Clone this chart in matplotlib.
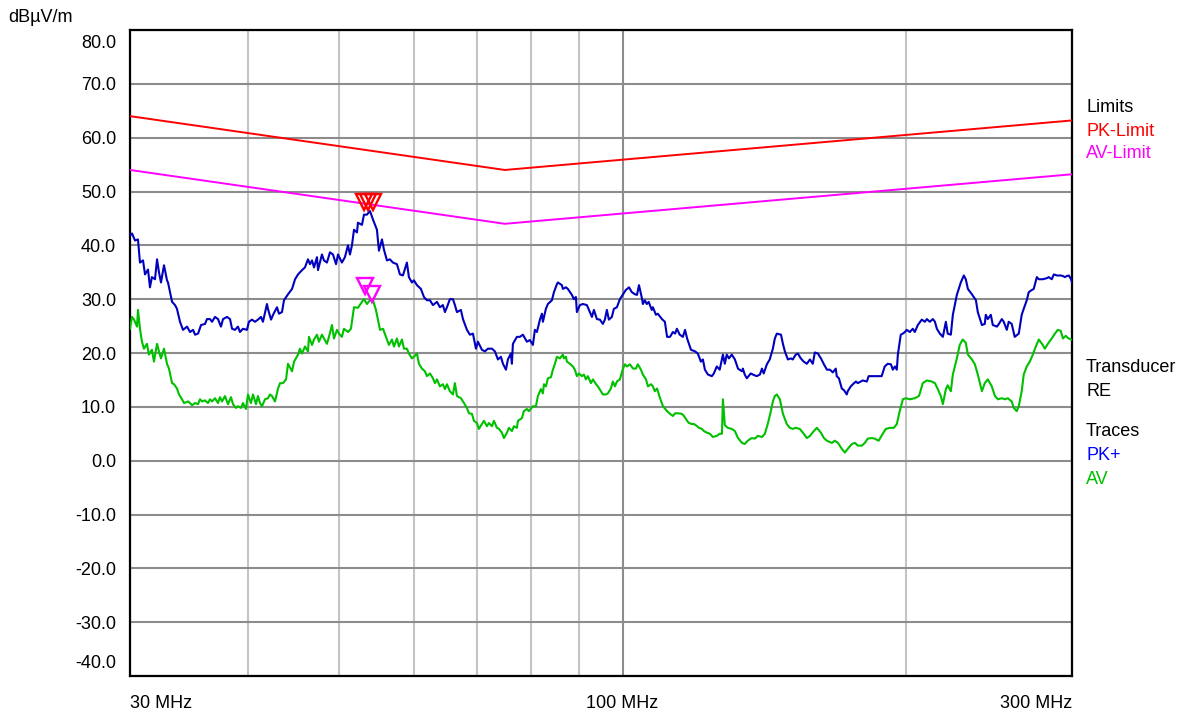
import matplotlib
matplotlib.use("Agg")
import matplotlib.pyplot as plt
from matplotlib.ticker import NullFormatter

plt.rcParams['font.family'] = ['Liberation Sans', 'DejaVu Sans']
plt.rcParams['font.size'] = 13

# ---- data (MHz, dBuV/m) ----
pk_freq = [30.0, 30.15, 30.37, 30.59, 30.74, 30.97, 31.12, 31.35, 31.5, 31.65, 31.89, 32.05, 32.2, 32.36,
           32.6, 32.84, 32.92, 33.25, 33.49, 33.65, 33.9, 34.15, 34.49, 34.74, 35.0, 35.17, 35.43, 35.69,
           36.04, 36.21, 36.48, 36.66, 36.93, 37.2, 37.47, 37.66, 38.03, 38.31, 38.5, 38.78, 39.06, 39.25,
           39.54, 39.93, 40.12, 40.42, 40.72, 41.02, 41.32, 41.52, 41.93, 42.03, 42.35, 42.56, 42.97, 43.18,
           43.5, 43.71, 44.14, 44.58, 44.91, 45.24, 45.68, 46.01, 46.35, 46.58, 46.81, 47.04, 47.38, 47.5,
           47.96, 48.2, 48.55, 48.91, 49.27, 49.64, 49.88, 50.36, 50.73, 51.11, 51.36, 51.61, 51.87, 52.25,
           52.37, 52.89, 53.15, 53.54, 53.93, 54.33, 54.86, 55.13, 55.54, 55.81, 56.22, 56.63, 57.05, 57.61,
           58.03, 58.46, 59.03, 59.32, 59.76, 60.05, 60.5, 61.09, 61.54, 61.99, 62.45, 62.91, 63.53, 63.99,
           64.46, 64.78, 65.1, 65.57, 66.06, 66.38, 66.71, 67.36, 67.7, 68.36, 68.86, 69.37, 69.88, 70.22,
           70.91, 71.43, 71.96, 72.67, 73.2, 73.74, 74.28, 74.65, 75.2, 75.56, 76.12, 76.3, 76.49, 77.24,
           77.81, 78.38, 79.15, 79.73, 80.32, 80.71, 81.11, 81.71, 82.11, 82.31, 82.91, 83.32, 84.14, 84.56,
           85.18, 85.39, 86.22, 86.43, 87.07, 87.49, 88.35, 88.79, 89.22, 89.44, 90.1, 90.77, 91.65, 92.33,
           92.79, 93.24, 93.92, 94.61, 95.31, 95.77, 96.24, 96.71, 97.42, 97.9, 98.63, 99.35, 100.1, 100.8,
           101.6, 102.3, 103.1, 103.6, 104.1, 104.9, 105.1, 105.6, 106.1, 106.6, 107.4, 107.7, 108.5, 109.0,
           110.1, 110.9, 111.5, 112.3, 113.1, 113.7, 114.2, 115.0, 115.9, 116.5, 117.1, 118.2, 119.4, 120.2,
           121.1, 121.7, 122.3, 123.2, 124.4, 125.0, 125.9, 126.8, 127.8, 128.4, 129.0, 129.7, 130.6, 131.6,
           132.6, 133.9, 134.2, 134.8, 135.5, 136.8, 137.5, 138.8, 139.9, 140.6, 141.2, 142.3, 143.3, 144.4,
           145.1, 145.8, 147.3, 148.0, 148.7, 149.8, 150.9, 151.6, 152.7, 153.5, 154.6, 155.7, 156.9, 158.1,
           159.2, 160.0, 161.2, 162.4, 163.6, 164.8, 166.0, 167.2, 168.4, 168.8, 169.7, 170.9, 171.8, 173.0,
           173.4, 174.7, 175.6, 176.9, 177.7, 179.0, 179.9, 181.7, 182.5, 186.1, 188.4, 189.8, 191.2, 192.7,
           193.6, 194.6, 195.5, 196.0, 197.4, 198.4, 199.4, 200.3, 201.8, 203.3, 204.3, 205.8, 207.8, 209.4,
           210.4, 211.9, 213.5, 214.6, 215.6, 217.2, 218.8, 220.4, 221.4, 223.1, 224.2, 226.4, 228.6, 230.3,
           231.4, 232.6, 234.9, 237.2, 238.3, 240.7, 242.4, 243.0, 244.2, 246.0, 247.2, 249.7, 250.9, 252.7,
           253.9, 255.8, 257.0, 258.9, 259.6, 260.8, 263.4, 265.3, 266.6, 268.6, 269.9, 271.9, 273.2, 275.3,
           276.6, 279.3, 282.1, 283.4, 285.5, 287.0, 289.1, 291.9, 293.4, 294.8, 296.3, 297.7, 299.3, 300.0]
pk_level = [41.8, 42.2, 40.9, 41.1, 36.8, 37.2, 34.6, 35.5, 32.2, 34.1, 33.7, 37.4, 35.0, 33.1,
            36.3, 33.5, 33.1, 29.5, 28.9, 28.2, 25.8, 24.3, 24.9, 23.9, 24.3, 23.4, 23.6, 25.2,
            25.4, 26.3, 26.3, 25.8, 26.7, 26.3, 24.9, 26.3, 26.7, 26.3, 24.5, 24.3, 24.9, 23.9,
            24.5, 24.3, 25.8, 26.2, 25.8, 26.2, 26.7, 25.8, 29.1, 28.2, 26.2, 27.1, 28.5, 27.3,
            27.6, 29.8, 30.9, 31.9, 33.7, 34.6, 35.4, 35.9, 37.4, 36.5, 37.2, 35.9, 37.8, 35.4,
            38.3, 37.2, 36.8, 38.7, 38.3, 36.5, 38.3, 36.8, 37.8, 40.0, 38.3, 40.0, 42.9, 42.4,
            44.2, 43.8, 45.7, 45.7, 46.4, 44.8, 42.9, 39.0, 41.1, 39.2, 37.2, 37.4, 36.8, 36.5,
            34.6, 34.4, 36.8, 34.1, 33.1, 33.5, 32.6, 31.9, 30.4, 29.8, 29.8, 28.9, 29.5, 28.5,
            28.9, 27.6, 28.5, 30.0, 30.0, 28.9, 27.6, 28.0, 26.3, 24.3, 23.4, 23.6, 20.8, 22.1,
            20.6, 20.3, 20.8, 20.8, 20.3, 18.8, 19.3, 18.0, 16.9, 18.8, 19.9, 18.0, 21.7, 23.0,
            23.0, 23.4, 22.1, 22.4, 21.5, 24.3, 23.9, 26.2, 27.3, 25.8, 28.2, 29.1, 29.8, 31.3,
            32.8, 33.1, 32.6, 31.9, 32.2, 31.9, 30.8, 30.0, 30.4, 27.6, 28.9, 29.1, 28.9, 27.6,
            26.7, 28.0, 26.3, 26.2, 25.4, 26.2, 28.0, 26.2, 26.7, 28.2, 28.5, 30.0, 30.9, 31.7,
            32.2, 31.3, 30.9, 30.8, 32.6, 30.0, 29.1, 29.8, 29.1, 29.5, 28.0, 28.5, 27.1, 27.3,
            26.3, 25.8, 23.0, 23.0, 23.9, 23.6, 24.5, 23.4, 23.0, 24.3, 22.7, 20.6, 20.3, 19.9,
            18.4, 18.8, 16.9, 16.0, 15.7, 16.2, 17.5, 16.9, 19.7, 18.0, 19.7, 19.0, 19.7, 18.8,
            17.1, 16.6, 17.1, 16.0, 15.3, 16.2, 16.0, 15.7, 16.0, 17.1, 16.2, 17.9, 18.8, 20.8,
            22.7, 23.6, 23.4, 21.7, 20.3, 18.8, 19.0, 18.8, 19.7, 19.9, 19.0, 18.4, 18.0, 18.8,
            18.0, 20.1, 19.9, 19.0, 17.9, 16.9, 16.9, 16.4, 17.1, 15.7, 15.3, 13.4, 13.1, 12.3,
            12.9, 13.8, 14.2, 14.7, 14.4, 14.7, 14.9, 14.7, 15.7, 15.7, 15.7, 17.5, 18.0, 17.9,
            16.9, 17.5, 16.9, 19.7, 23.4, 23.6, 23.9, 24.3, 23.9, 24.5, 23.9, 25.2, 26.2, 25.8,
            26.3, 25.8, 26.3, 25.8, 24.5, 23.6, 23.0, 25.8, 23.6, 23.4, 27.1, 30.8, 33.1, 34.4,
            33.7, 31.9, 30.9, 29.8, 27.6, 25.2, 25.4, 27.1, 26.3, 27.1, 25.2, 24.9, 25.4, 26.3,
            25.8, 24.3, 25.8, 25.4, 24.5, 23.0, 23.6, 27.1, 28.2, 29.8, 31.3, 31.7, 31.9, 34.1,
            33.7, 33.7, 33.9, 34.1, 33.7, 34.6, 34.4, 34.4, 34.3, 34.1, 34.3, 34.4, 33.7, 33.1]

av_freq = [30.0, 30.15, 30.3, 30.52, 30.59, 30.74, 30.89, 31.04, 31.27, 31.42, 31.65, 31.81, 32.05, 32.2,
           32.36, 32.6, 32.84, 33.0, 33.25, 33.41, 33.65, 33.82, 34.07, 34.24, 34.57, 34.74, 34.91, 35.17,
           35.43, 35.6, 35.78, 36.04, 36.3, 36.48, 36.66, 36.93, 37.2, 37.38, 37.57, 37.84, 38.12, 38.4,
           38.59, 38.87, 39.06, 39.35, 39.54, 39.83, 40.03, 40.32, 40.52, 40.82, 41.02, 41.22, 41.42, 41.73,
           42.03, 42.24, 42.45, 42.76, 43.08, 43.29, 43.61, 43.93, 44.14, 44.58, 44.8, 45.24, 45.45, 45.68,
           46.01, 46.35, 46.46, 46.81, 47.04, 47.38, 47.61, 47.96, 48.2, 48.55, 48.79, 49.15, 49.39, 49.76,
           50.0, 50.36, 50.61, 51.11, 51.48, 51.87, 52.37, 52.89, 53.15, 53.54, 53.93, 54.33, 54.73, 55.27,
           55.68, 56.09, 56.49, 56.91, 57.19, 57.61, 57.89, 58.32, 58.61, 59.03, 59.32, 59.76, 60.05, 60.5,
           60.79, 61.24, 61.69, 61.99, 62.45, 62.91, 63.22, 63.53, 63.99, 64.46, 64.78, 65.1, 65.57, 66.06,
           66.38, 66.71, 67.36, 67.87, 68.36, 68.69, 69.2, 69.54, 70.05, 70.39, 70.91, 71.26, 71.78, 72.13,
           72.67, 73.02, 73.56, 73.92, 74.46, 74.83, 75.38, 75.75, 76.3, 76.68, 77.24, 77.43, 78.19, 78.57,
           79.15, 79.54, 80.32, 80.91, 81.31, 81.91, 82.31, 82.52, 82.92, 83.32, 83.94, 84.35, 84.76, 85.18,
           85.8, 86.43, 86.64, 87.07, 87.28, 87.92, 88.57, 89.0, 89.44, 89.88, 90.54, 90.99, 91.43, 91.88,
           92.56, 93.02, 93.72, 94.15, 94.84, 95.31, 96.0, 96.48, 97.19, 97.66, 98.15, 98.63, 99.35, 100.1,
           100.6, 101.1, 101.8, 102.6, 103.3, 103.8, 104.6, 105.1, 105.9, 106.4, 107.2, 107.7, 108.2, 108.8,
           109.6, 110.4, 111.5, 112.3, 113.1, 113.7, 114.5, 115.6, 116.2, 117.1, 117.6, 118.5, 119.1, 120.0,
           120.5, 121.4, 122.0, 122.9, 123.8, 124.7, 125.9, 126.8, 127.5, 127.8, 128.4, 129.3, 130.6, 131.6,
           132.6, 133.9, 134.8, 135.8, 137.1, 138.2, 139.2, 140.6, 141.6, 142.6, 143.7, 144.4, 145.1, 145.8,
           146.9, 148.0, 149.4, 150.5, 151.6, 152.7, 154.2, 155.4, 156.9, 158.1, 159.6, 160.8, 162.4, 163.6,
           164.8, 166.8, 168.0, 169.3, 170.9, 172.2, 173.4, 175.2, 176.5, 177.7, 179.5, 180.8, 182.1, 183.9,
           185.2, 187.0, 188.9, 190.3, 192.2, 194.1, 195.5, 196.9, 198.4, 199.8, 201.8, 204.3, 206.3, 206.8,
           208.3, 210.4, 212.9, 214.6, 216.1, 217.7, 218.8, 220.4, 221.4, 223.1, 224.2, 226.4, 228.0, 229.7,
           231.4, 232.6, 234.9, 236.6, 238.3, 240.7, 242.4, 244.2, 246.6, 248.5, 250.3, 252.7, 254.6, 256.4,
           258.9, 260.2, 262.1, 263.4, 265.3, 266.6, 268.6, 270.6, 272.6, 274.6, 276.6, 279.3, 280.7, 282.8,
           285.5, 287.7, 289.8, 291.9, 293.4, 295.5, 297.0, 299.3]
av_level = [24.5, 26.7, 26.2, 24.9, 28.0, 24.5, 22.1, 20.8, 21.7, 19.7, 20.6, 18.4, 21.7, 20.3,
            19.0, 20.8, 18.0, 17.1, 14.4, 14.2, 13.4, 12.3, 11.4, 10.7, 11.0, 10.7, 10.3, 10.7,
            10.5, 11.4, 11.0, 11.2, 10.7, 11.4, 11.0, 11.6, 10.7, 11.8, 11.0, 12.0, 10.5, 11.8,
            10.5, 9.8, 10.1, 9.8, 10.7, 9.6, 12.3, 10.7, 12.3, 10.5, 12.0, 10.7, 10.1, 11.4,
            11.6, 12.3, 12.0, 11.0, 13.4, 14.4, 14.4, 15.1, 18.0, 16.6, 18.4, 19.7, 20.8, 19.9,
            21.2, 20.3, 23.0, 21.5, 22.5, 23.4, 22.1, 23.4, 22.7, 21.7, 23.0, 25.2, 22.7, 24.3,
            23.6, 23.0, 24.5, 23.9, 24.5, 28.5, 28.4, 29.5, 30.0, 29.1, 29.8, 29.8, 28.0, 24.3,
            24.5, 23.0, 21.5, 22.5, 21.2, 22.7, 21.2, 22.5, 20.8, 20.8, 19.9, 19.0, 19.3, 19.9,
            18.0, 17.1, 16.6, 15.7, 16.2, 15.3, 14.4, 15.1, 13.8, 14.2, 13.3, 14.2, 12.9, 12.3,
            14.4, 12.0, 11.6, 10.7, 9.8, 8.8, 8.7, 7.4, 7.0, 5.9, 6.8, 7.4, 6.4, 7.0,
            6.4, 7.4, 6.1, 5.9, 5.2, 4.2, 5.2, 6.1, 5.5, 6.4, 6.1, 7.4, 7.9, 9.2,
            9.6, 9.2, 10.1, 10.1, 12.0, 13.3, 12.5, 14.2, 13.8, 15.3, 15.5, 16.9, 18.0, 19.3,
            19.0, 19.7, 19.0, 19.3, 18.4, 18.0, 17.5, 16.9, 15.7, 16.2, 15.7, 16.0, 15.1, 15.7,
            14.4, 15.1, 14.2, 13.8, 12.9, 12.3, 12.3, 12.5, 13.4, 14.7, 13.8, 14.7, 15.1, 17.1,
            17.9, 17.5, 17.9, 17.1, 17.1, 17.9, 16.9, 16.0, 15.1, 13.8, 14.2, 13.8, 12.9, 13.4,
            11.6, 10.1, 9.2, 8.7, 8.3, 8.8, 8.8, 8.7, 8.3, 7.4, 7.0, 6.8, 6.8, 6.4,
            6.1, 5.9, 5.5, 5.2, 5.0, 4.4, 4.6, 5.0, 5.0, 11.4, 6.6, 6.1, 5.9, 5.5,
            4.2, 3.3, 3.1, 3.7, 4.2, 4.1, 4.6, 4.4, 5.0, 6.8, 9.2, 11.0, 12.0, 12.3,
            11.4, 8.7, 6.8, 6.1, 5.9, 6.1, 5.9, 5.2, 4.2, 4.6, 5.5, 6.1, 5.2, 4.2,
            3.7, 3.3, 3.7, 3.3, 2.2, 1.5, 2.2, 3.1, 3.3, 2.8, 2.8, 3.3, 4.1, 4.2,
            4.1, 3.7, 5.0, 5.9, 6.1, 6.1, 6.8, 9.2, 11.4, 11.6, 11.4, 11.6, 12.0, 12.5,
            14.4, 14.9, 14.7, 14.4, 13.3, 12.0, 10.5, 13.3, 14.0, 12.9, 16.0, 19.0, 21.5, 22.5,
            21.9, 19.7, 18.8, 17.9, 16.0, 12.9, 14.4, 15.1, 13.8, 12.0, 11.4, 11.6, 11.4, 11.6,
            11.0, 9.8, 9.2, 10.1, 12.9, 16.0, 17.5, 18.4, 19.7, 21.2, 22.5, 21.5, 20.8, 21.7,
            22.7, 23.6, 24.3, 24.1, 22.7, 23.2, 22.8, 22.5]

limit_freq = [30.0, 75.0, 300.0]
pk_limit = [64.0, 54.0, 63.2]
av_limit = [54.0, 44.0, 53.2]

pk_mark_freq = [53.15, 53.74, 54.33]
pk_mark_level = [48.0, 48.0, 48.0]
av_mark_freq = [53.28, 54.2]
av_mark_level = [32.4, 30.9]

y_ticks = [80, 70, 60, 50, 40, 30, 20, 10, 0, -10, -20, -30, -40]
x_major = [30, 100, 300]
x_major_labels = ['30 MHz', '100 MHz', '300 MHz']
x_minor = [40, 50, 60, 70, 80, 90, 200]

BLUE = '#0000BE'
GREEN = '#00C000'
RED = '#FF0000'
MAGENTA = '#FF00FF'

fig = plt.figure(figsize=(11.89, 7.18), dpi=100)
ax = fig.add_axes([130 / 1189, 1 - 676 / 718, 942 / 1189, 646 / 718])

ax.plot(limit_freq, pk_limit, color=RED, lw=1.4, zorder=3)
ax.plot(limit_freq, av_limit, color=MAGENTA, lw=1.4, zorder=3)
ax.plot(pk_freq, pk_level, color=BLUE, lw=1.5, zorder=4)
ax.plot(av_freq, av_level, color=GREEN, lw=1.5, zorder=4)

ax.plot(pk_mark_freq, pk_mark_level, ls='none', marker='v', ms=12, mfc='none',
        mec=RED, mew=1.7, zorder=5)
ax.plot(av_mark_freq, av_mark_level, ls='none', marker='v', ms=12, mfc='none',
        mec=MAGENTA, mew=1.7, zorder=5)

ax.set_xscale('log')
ax.set_xlim(30, 300)
ax.set_ylim(-40, 80)

ax.set_xticks(x_major, labels=x_major_labels)
ax.set_xticks(x_minor, minor=True)
ax.xaxis.set_minor_formatter(NullFormatter())

# end labels (80 / -40) sit inside the frame in the original, draw them by hand
ax.set_yticks(y_ticks, labels=['' if v in (80, -40) else f"{v:.1f}" for v in y_ticks])
ylab_tf = ax.get_yaxis_transform()
ax.text(-14 / 942, 77.4, '80.0', ha='right', va='center', transform=ylab_tf, fontsize=13)
ax.text(-14 / 942, -37.6, '-40.0', ha='right', va='center', transform=ylab_tf, fontsize=13)

ax.tick_params(which='both', length=0)
ax.tick_params(axis='y', pad=10, labelsize=13)
ax.tick_params(axis='x', pad=14, labelsize=13)

xlabels = ax.get_xticklabels()
xlabels[0].set_horizontalalignment('left')
xlabels[-1].set_horizontalalignment('right')

ax.set_axisbelow(True)
ax.grid(axis='y', which='major', color='#8C8C8C', lw=1.5)
ax.grid(axis='x', which='major', color='#8C8C8C', lw=1.5)
ax.grid(axis='x', which='minor', color='#C4C4C4', lw=1.5)
for sp in ax.spines.values():
    sp.set_linewidth(1.6)
    sp.set_color('black')

fig.text(8 / 1189, 1 - 17 / 718, 'dBµV/m', fontsize=13, va='center', ha='left')

# right-hand legend
legend_items = [('Limits', 'black', 107), ('PK-Limit', RED, 131), ('AV-Limit', MAGENTA, 154),
                ('Transducer', 'black', 368), ('RE', 'black', 392),
                ('Traces', 'black', 432), ('PK+', '#0000FF', 455), ('AV', GREEN, 480)]
for txt, col, ypx in legend_items:
    fig.text(1086 / 1189, 1 - ypx / 718, txt, color=col, fontsize=13, va='center', ha='left')

fig.savefig('out.png', dpi=100)
